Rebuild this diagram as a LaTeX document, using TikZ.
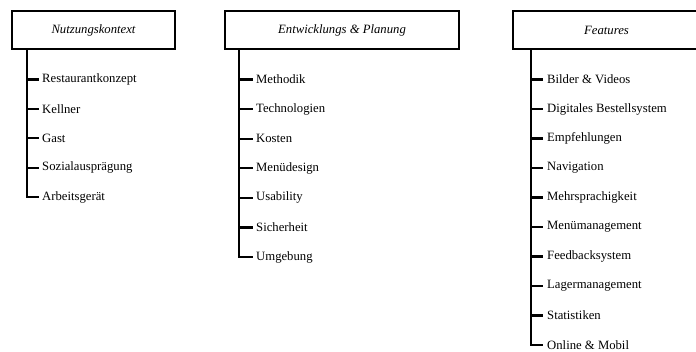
\documentclass[tikz,border=0pt]{standalone}
\usepackage{fontspec}
\setmainfont{Liberation Serif}
\begin{document}
\begin{tikzpicture}[x=1pt,y=-1pt,
  headbox/.style={draw,line width=2.3pt,minimum height=38pt,inner sep=0pt,font=\fontsize{12.7}{14}\selectfont\itshape},
  item/.style={anchor=west,inner sep=0pt,font=\fontsize{12.7}{14}\selectfont},
  branch/.style={line width=2.3pt}]
\useasboundingbox (0,0) rectangle (696,351);
% boxes
\node[headbox,minimum width=163pt] (h1) at (93.5,30) {Nutzungskontext};
\node[headbox,minimum width=234pt] (h2) at (342,30) {Entwicklungs \& Planung};
\node[headbox,minimum width=187pt,text width=166pt,align=center] (h3) at (606.5,30) {Features};
% column 1
\foreach \t [count=\i from 0] in {Restaurantkonzept,Kellner,Gast,Sozialausprägung,Arbeitsgerät}{
  \node[item] (a\i) at (42,79.5+29.4*\i) {\t};
  \coordinate (ta\i) at (27,79.5+29.4*\i);
  \draw[branch] (ta\i) -- ++(12,0);
}
\draw[branch] (h1.south -| ta0) -- (ta4) -- +(-1,0);
% column 2
\foreach \t [count=\i from 0] in {Methodik,Technologien,Kosten,Menüdesign,Usability,Sicherheit,Umgebung}{
  \node[item] (b\i) at (256,79.5+29.6*\i) {\t};
  \coordinate (tb\i) at (239,79.5+29.6*\i);
  \draw[branch] (tb\i) -- ++(14,0);
}
\draw[branch] (h2.south -| tb0) -- (tb6) -- +(-1,0);
% column 3
\foreach \t [count=\i from 0] in {Bilder \& Videos,Digitales Bestellsystem,Empfehlungen,Navigation,Mehrsprachigkeit,Menümanagement,Feedbacksystem,Lagermanagement,Statistiken,Online \& Mobil}{
  \node[item] (c\i) at (547,79.5+29.5*\i) {\t};
  \coordinate (tc\i) at (531,79.5+29.5*\i);
  \draw[branch] (tc\i) -- ++(12,0);
}
\draw[branch] (h3.south -| tc0) -- (tc9) -- +(-1,0);
\end{tikzpicture}
\end{document}
